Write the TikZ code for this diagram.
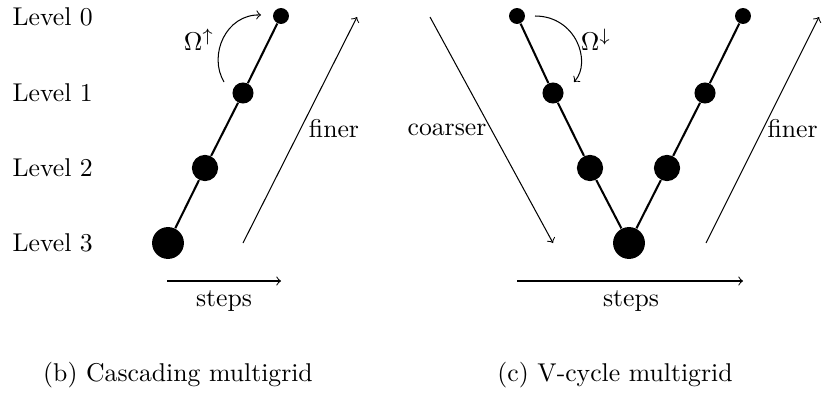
\documentclass[tikz,border=0pt]{standalone}
\usetikzlibrary{calc}
\begin{document}
\begin{tikzpicture}[x=0.3889pt,y=-0.3889pt,
  dot/.style={circle,fill=black,inner sep=0pt},
  d0/.style={dot,minimum size=6.2pt},
  d1/.style={dot,minimum size=8.2pt},
  d2/.style={dot,minimum size=10.2pt},
  d3/.style={dot,minimum size=12.4pt},
  link/.style={line width=0.8pt},
  dirarrow/.style={->},
  lbl/.style={inner sep=0pt}]
\useasboundingbox (0,0) rectangle (822,392);
% level labels
\node[lbl,anchor=west] (lv0) at (12,17) {Level 0};
\node[lbl,anchor=west] (lv1) at (12,93) {Level 1};
\node[lbl,anchor=west] (lv2) at (12,168) {Level 2};
\node[lbl,anchor=west] (lv3) at (12,243) {Level 3};
% cascading
\node[d3] (a3) at (168,243) {};
\node[d2] (a2) at (205,168) {};
\node[d1] (a1) at (243,93) {};
\node[d0] (a0) at (281,16) {};
\draw[link] (a3) -- (a2) -- (a1) -- (a0);
\coordinate (u1) at (224,82);
\coordinate (u2) at (261,15);
\draw[->] (u1) .. controls (208,55) and (226,14) .. (u2);
\node[lbl] (om1) at (199,40) {$\Omega^{\uparrow}$};
\coordinate (f1s) at (243,243);
\coordinate (f1e) at (357,17);
\draw[dirarrow] (f1s) -- (f1e);
\node[lbl] (fl1) at (334,129) {finer};
\coordinate (s1s) at (167,281);
\coordinate (s1e) at (281,281);
\draw[dirarrow] (s1s) -- (s1e);
\node[lbl] (st1) at (224,301) {steps};
% V-cycle
\node[d0] (b0) at (517,16) {};
\node[d1] (b1) at (553,93) {};
\node[d2] (b2) at (590,168) {};
\node[d3] (b3) at (629,243) {};
\node[d2] (b4) at (667,168) {};
\node[d1] (b5) at (705,93) {};
\node[d0] (b6) at (743,16) {};
\draw[link] (b0) -- (b1) -- (b2) -- (b3) -- (b4) -- (b5) -- (b6);
\coordinate (w1) at (535,16);
\coordinate (w2) at (574,82);
\draw[->] (w1) .. controls (576,16) and (592,62) .. (w2);
\node[lbl] (om2) at (596,40) {$\Omega^{\downarrow}$};
\coordinate (c1s) at (430,17);
\coordinate (c1e) at (553,243);
\draw[dirarrow] (c1s) -- (c1e);
\node[lbl] (cl) at (447,130) {coarser};
\coordinate (f2s) at (706,243);
\coordinate (f2e) at (819,17);
\draw[dirarrow] (f2s) -- (f2e);
\node[lbl,anchor=west] (fl2) at (767,129) {finer};
\coordinate (s2s) at (517,281);
\coordinate (s2e) at (743,281);
\draw[dirarrow] (s2s) -- (s2e);
\node[lbl] (st2) at (631,301) {steps};
% captions
\node[lbl] (cap1) at (178,375) {(b) Cascading multigrid};
\node[lbl] (cap2) at (615,375) {(c) V-cycle multigrid};
\end{tikzpicture}
\end{document}
